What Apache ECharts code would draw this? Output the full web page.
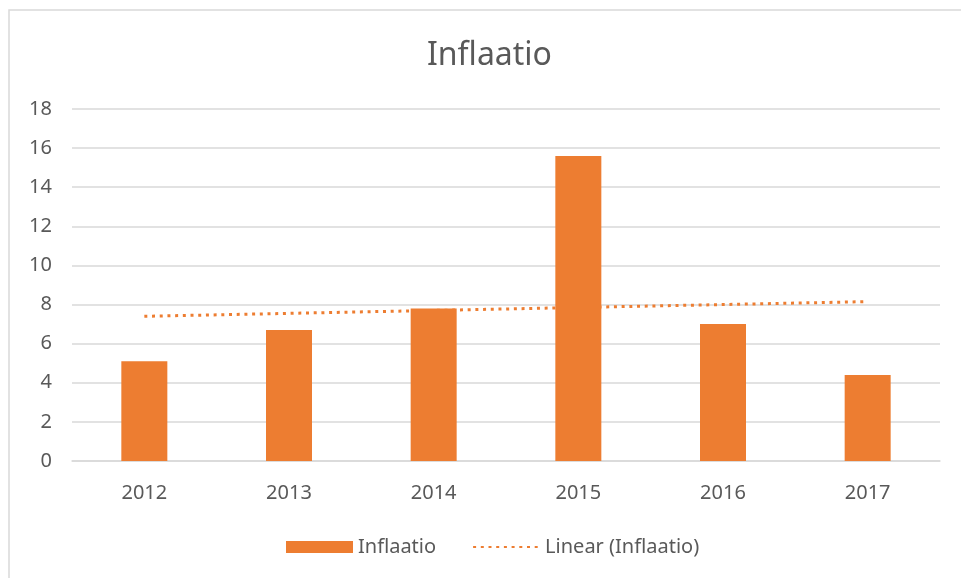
<!DOCTYPE html>
<html>
<head>
<meta charset="utf-8">
<script src="https://cdn.jsdelivr.net/npm/echarts@6/dist/echarts.min.js"></script>
<style>
 html, body { margin: 0; padding: 0; background: #fff; }
 #chart { width: 961px; height: 578px; }
</style>
</head>
<body>
<div id="chart"></div>
<script>
var years = ['2012', '2013', '2014', '2015', '2016', '2017'];
var inflaatio = [5.1, 6.7, 7.8, 15.6, 7.0, 4.4];
// trend line ends (Excel linear trendline)
var trend = [7.4, null, null, null, null, 8.15];

var chart = echarts.init(document.getElementById('chart'));

var option = {
    backgroundColor: '#fff',
    textStyle: { fontFamily: 'Noto Sans' },
    title: {
        text: 'Inflaatio',
        left: 422,
        top: 35,
        textStyle: {
            color: '#595959',
            fontSize: 32,
            fontWeight: 'normal'
        }
    },
    graphic: [{
        type: 'rect',
        shape: { x: 9, y: 10, width: 1000, height: 600 },
        style: { fill: 'none', stroke: '#d9d9d9', lineWidth: 1.5 },
        silent: true
    }],
    legend: {
        left: 281,
        top: 532,
        itemWidth: 67,
        itemHeight: 12,
        itemGap: 36,
        textStyle: { color: '#595959', fontSize: 20 },
        data: [
            { name: 'Inflaatio', icon: 'rect' },
            { name: 'Linear (Inflaatio)', itemStyle: { opacity: 0 } }
        ]
    },
    grid: {
        left: 72,
        right: 21,
        top: 109,
        bottom: 117
    },
    xAxis: {
        type: 'category',
        data: years,
        axisLine: { lineStyle: { color: '#d9d9d9', width: 1.5 } },
        axisTick: { show: false },
        axisLabel: { color: '#595959', fontSize: 20, margin: 22 }
    },
    yAxis: {
        type: 'value',
        min: 0,
        max: 18,
        interval: 2,
        axisLine: { show: false },
        axisTick: { show: false },
        axisLabel: { color: '#595959', fontSize: 20, margin: 20 },
        splitLine: { lineStyle: { color: '#d9d9d9', width: 1.5 } }
    },
    series: [{
        name: 'Inflaatio',
        type: 'bar',
        data: inflaatio,
        barWidth: 46,
        z: 3,
        itemStyle: { color: '#ED7D31' }
    }, {
        name: 'Linear (Inflaatio)',
        type: 'line',
        data: trend,
        connectNulls: true,
        symbol: 'none',
        z: 2,
        itemStyle: { color: '#ED7D31' },
        lineStyle: { color: '#ED7D31', width: 3, type: [3, 4.7] }
    }]
};

chart.setOption(option);
</script>
</body>
</html>
